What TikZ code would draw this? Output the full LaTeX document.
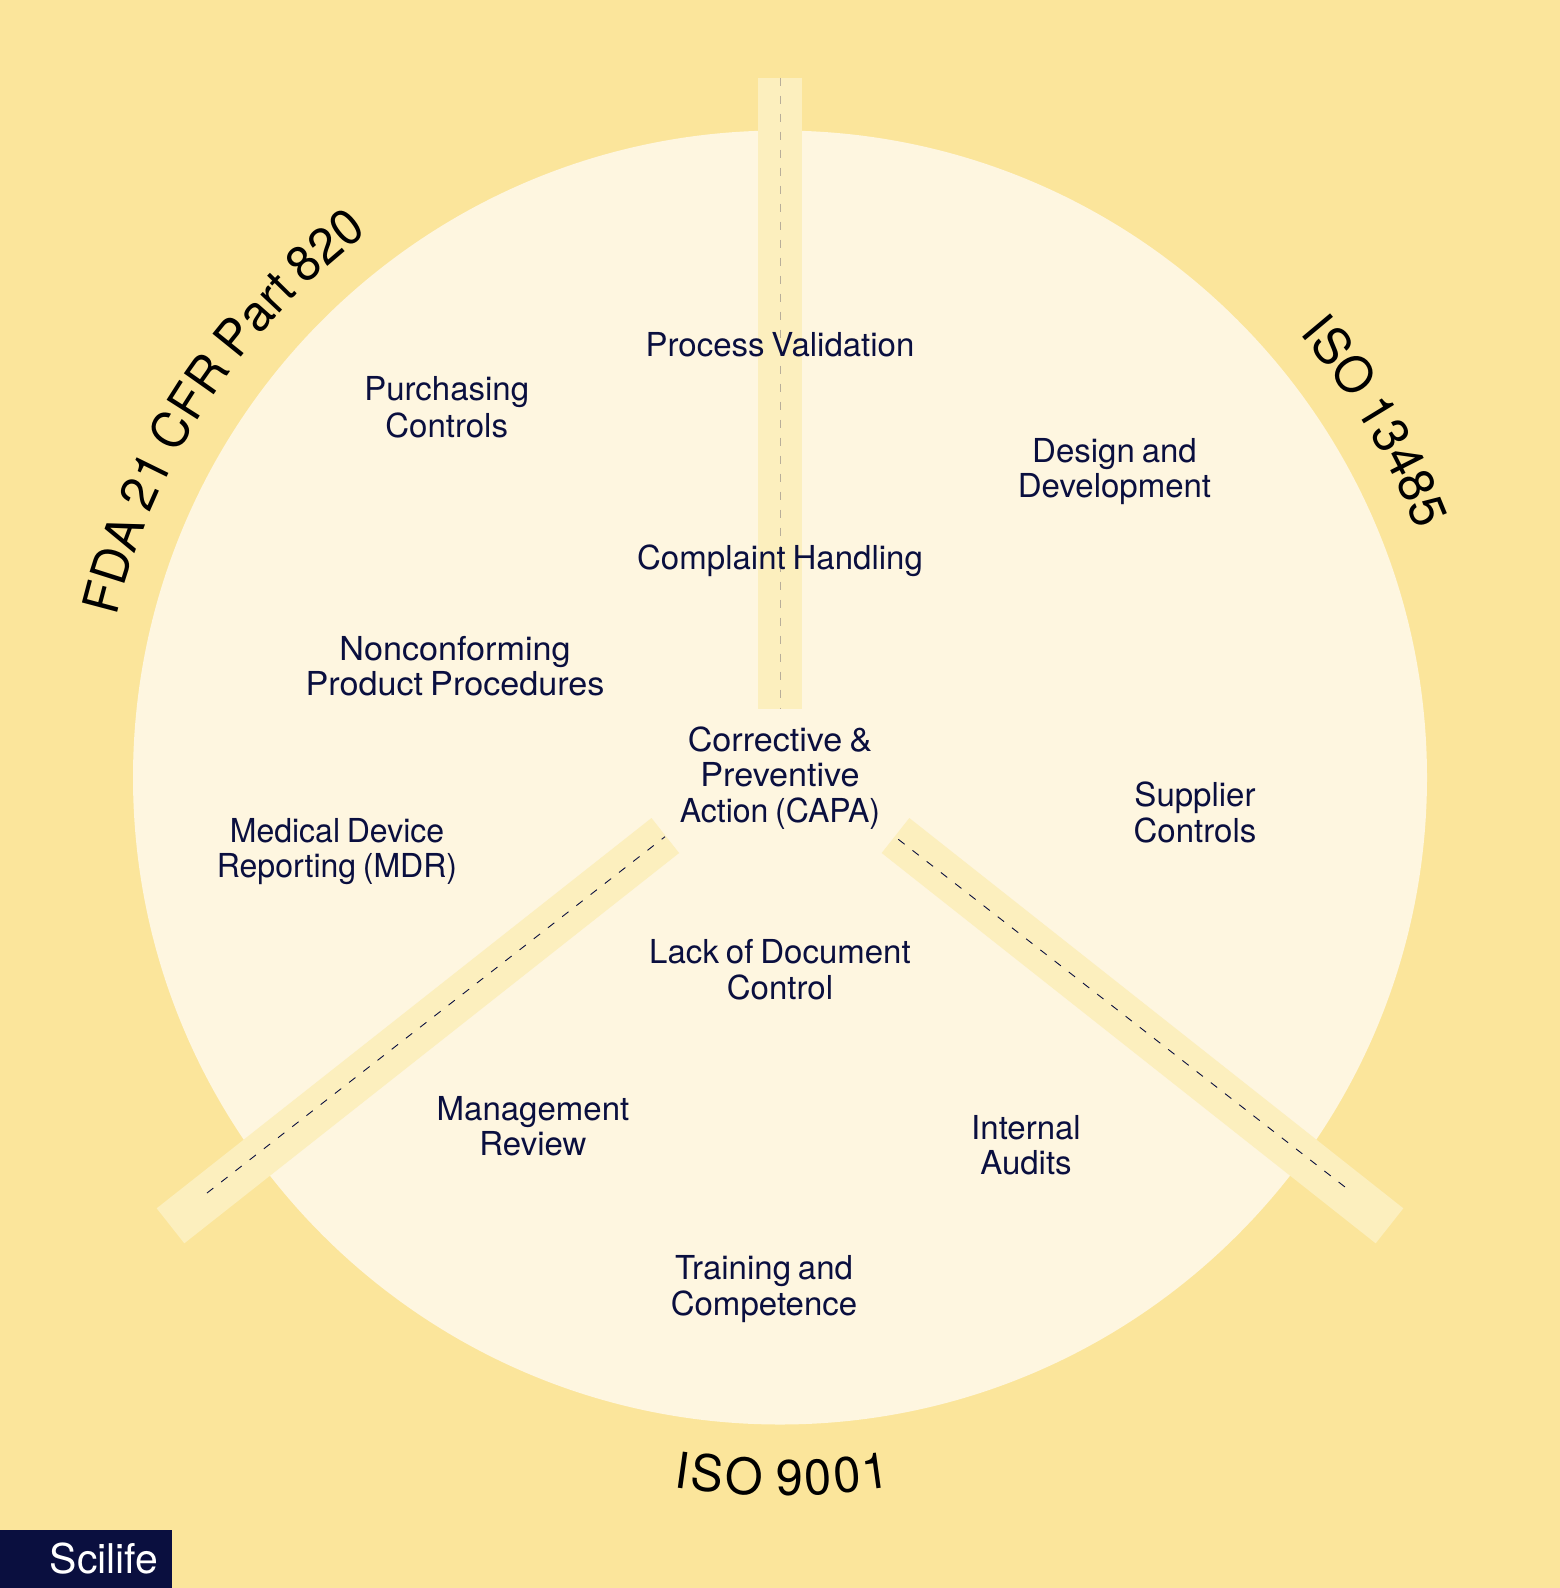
\documentclass[tikz,border=0pt]{standalone}
\usepackage{fontspec}
\usetikzlibrary{decorations.text}
\setmainfont{TeX Gyre Heros}[WordSpace=0.75]
\newfontfamily\bigfam{TeX Gyre Heros}[WordSpace=0.75,FakeStretch=0.97]
\newfontfamily\widefam{TeX Gyre Heros}[WordSpace=0.75,FakeStretch=1.035]
\newfontfamily\slimfam{TeX Gyre Heros}[WordSpace=0.75,FakeStretch=0.97]
\definecolor{bgyel}{HTML}{FBE59B}
\definecolor{disc}{HTML}{FEF6E0}
\definecolor{barc}{HTML}{FCEFBE}
\definecolor{navy}{HTML}{0A0F3F}
\definecolor{vdash}{HTML}{B8AE9A}
\tikzset{
  x=1pt,y=1pt,
  barline/.style={line width=44.6pt,barc},
  dashline/.style={line width=0.9pt,navy,dash pattern=on 8pt off 10pt},
  vdashline/.style={line width=1pt,vdash,dash pattern=on 8pt off 10pt},
  lbl/.style={inner sep=0pt,align=center,text=navy,font=\fontsize{33}{35}\selectfont},
  arcname/.style={decorate,decoration={text along path,text align={fit to path},
     text={|\bigfam\fontsize{50}{50}\selectfont\color{black}|#1}}},
}
\begin{document}
\begin{tikzpicture}
\useasboundingbox (0,0) rectangle (1560,-1588);
\fill[bgyel] (0,0) rectangle (1560,-1588);
\coordinate (ctr) at (780,-777.5);
\fill[disc] (ctr) circle[radius=647];
% spokes
\coordinate (vA) at (780,-77.7);
\coordinate (vB) at (780,-708.7);
\coordinate (lA) at (170.5,-1225.8);
\coordinate (lB) at (665.3,-835.5);
\coordinate (rA) at (1389.5,-1225.8);
\coordinate (rB) at (895.5,-835.5);
\draw[barline] (vA) -- (vB);
\draw[barline] (lA) -- (lB);
\draw[barline] (rA) -- (rB);
\coordinate (vdA) at (780,-77.7);
\coordinate (vdB) at (780,-708.7);
\coordinate (ldA) at (207,-1193);
\coordinate (ldB) at (665,-836.7);
\coordinate (rdA) at (898.3,-839.3);
\coordinate (rdB) at (1345,-1187);
\draw[vdashline] (vdA) -- (vdB);
\draw[dashline] (ldA) -- (ldB);
\draw[dashline] (rdA) -- (rdB);
% labels
\node[lbl] (n1) at (780,-349) {\strut Process Validation};
\node[lbl] (n2) at (780,-562) {\strut Complaint Handling};
\node[lbl] (n3) at (446.7,-412) {\strut Purchasing\\\strut Controls};
\node[lbl] (n4) at (1114.5,-473) {\strut Design and\\\strut Development};
\node[lbl] (n5) at (455,-670.5) {\strut{\widefam Nonconforming}\\\strut{\widefam Product Procedures}};
\node[lbl] (n6) at (780,-780) {\strut{\widefam Corrective \&}\\\strut{\widefam Preventive}\\\strut{\slimfam Action (CAPA)}};
\node[lbl] (n7) at (1195,-817) {\strut Supplier\\\strut Controls};
\node[lbl] (n8) at (337,-853) {\strut{\slimfam Medical Device}\\\strut{\slimfam Reporting (MDR)}};
\node[lbl] (n9) at (780,-974.5) {\strut Lack of Document\\\strut Control};
\node[lbl] (n10) at (533,-1131) {\strut Management\\\strut Review};
\node[lbl] (n11) at (1026,-1150) {\strut Internal\\\strut Audits};
\node[lbl] (n12) at (764,-1290.5) {\strut Training and\\\strut Competence};
% curved names
\begin{scope}[shift={(ctr)}]
\path[arcname={FDA 21 CFR Part 820}] (166.4:683) arc[start angle=166.4,end angle=127.1,radius=683];
\path[arcname={ISO 13485}] (40.5:683) arc[start angle=40.5,end angle=21.2,radius=683];
\path[arcname={ISO 9001}] (261.5:718) arc[start angle=261.5,end angle=278.9,radius=718];
\end{scope}
% logo
\fill[navy] (0,-1530) rectangle (172,-1588);
\node[anchor=base west,inner sep=0pt,text=white,font=\fontsize{41}{41}\selectfont] (logo) at (49.5,-1573) {Scilife};
\end{tikzpicture}
\end{document}
